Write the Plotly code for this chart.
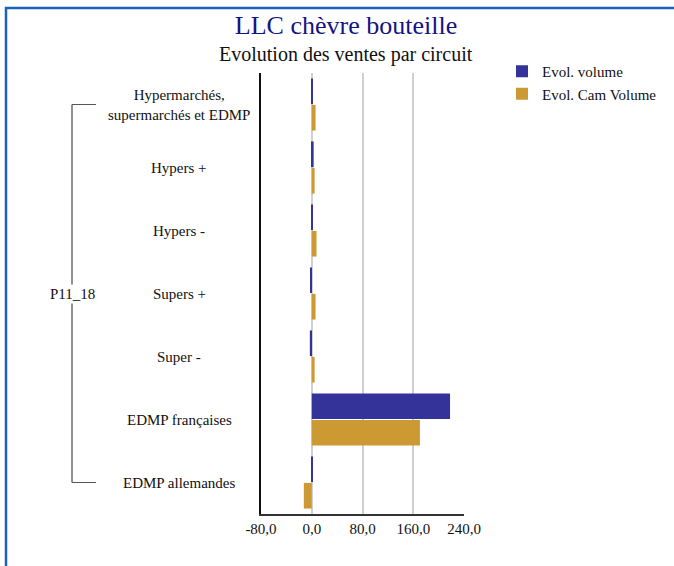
import plotly.graph_objects as go

categories = ["Hypermarchés,<br>supermarchés et EDMP", "Hypers +", "Hypers -", "Supers +",
              "Super -", "EDMP françaises", "EDMP allemandes"]
group_label = "P11_18"
evol_volume = [1.5, 3.0, 1.0, -1.5, -3.0, 218.0, 1.5]
evol_cam_volume = [6.0, 4.5, 7.5, 6.0, 4.5, 170.5, -12.5]
series_names = ["Evol. volume", "Evol. Cam Volume"]
x_ticks = [-80, 0, 80, 160, 240]
x_tick_labels = ["-80,0", "0,0", "80,0", "160,0", "240,0"]

FONT = "Liberation Serif"
W, H = 674, 566
L, R, T, B = 261, 210, 73, 52
pw = W - L - R
ph = H - T - B

def px_to_paper(x):
    return (x - L) / pw

def py_to_paper(y):
    return (H - B - y) / ph

fig = go.Figure()
fig.add_trace(go.Bar(y=categories, x=evol_volume, orientation="h", name=series_names[0],
                     marker=dict(color="#333399", line=dict(width=0))))
fig.add_trace(go.Bar(y=categories, x=evol_cam_volume, orientation="h", name=series_names[1],
                     marker=dict(color="#CC9933", line=dict(width=0))))

annotations = []
for c in categories:
    annotations.append(dict(x=px_to_paper(179), xref="paper", y=c, yref="y", text=c,
                            showarrow=False, xanchor="center", yanchor="middle",
                            font=dict(family=FONT, size=15, color="#111111"), align="center"))
annotations.append(dict(x=px_to_paper(72), xref="paper", y=categories[3], yref="y", text=group_label,
                        showarrow=False, xanchor="center", yanchor="middle", bgcolor="white",
                        font=dict(family=FONT, size=15, color="#111111")))
annotations.append(dict(x=px_to_paper(346), xref="paper", y=py_to_paper(55), yref="paper",
                        text="Evolution des ventes par circuit", showarrow=False,
                        xanchor="center", yanchor="middle",
                        font=dict(family=FONT, size=20, color="#111111")))

shapes = [
    dict(type="line", xref="paper", yref="y", x0=px_to_paper(72), x1=px_to_paper(72),
         y0=categories[0], y1=categories[-1], line=dict(color="#222222", width=1), layer="below"),
    dict(type="line", xref="paper", yref="y", x0=px_to_paper(72), x1=px_to_paper(96),
         y0=categories[0], y1=categories[0], line=dict(color="#555555", width=1)),
    dict(type="line", xref="paper", yref="y", x0=px_to_paper(72), x1=px_to_paper(96),
         y0=categories[-1], y1=categories[-1], line=dict(color="#555555", width=1)),
    # frame (left and top)
    dict(type="line", xref="paper", yref="paper", x0=px_to_paper(6), x1=px_to_paper(6),
         y0=py_to_paper(7), y1=py_to_paper(580),
         line=dict(color="#1a62b8", width=2.5)),
    dict(type="line", xref="paper", yref="paper", x0=px_to_paper(5), x1=px_to_paper(690),
         y0=py_to_paper(8), y1=py_to_paper(8),
         line=dict(color="#1a62b8", width=2.5)),
]

fig.update_layout(
    width=W, height=H,
    margin=dict(l=L, r=R, t=T, b=B, autoexpand=False),
    paper_bgcolor="white", plot_bgcolor="white",
    barmode="group", bargap=0.16, bargroupgap=0.03,
    title=dict(text="LLC chèvre bouteille", x=346 / W, xref="container", xanchor="center",
               y=1 - 25 / H, yref="container", yanchor="middle",
               font=dict(family=FONT, size=26, color="#141482")),
    legend=dict(x=px_to_paper(502), y=py_to_paper(55), xanchor="left", yanchor="top",
                font=dict(family=FONT, size=15, color="#111111"), tracegroupgap=0,
                itemwidth=30, bgcolor="rgba(0,0,0,0)", traceorder="normal"),
    xaxis=dict(range=[-80, 240], tickvals=x_ticks, ticktext=x_tick_labels, showgrid=True,
               gridcolor="#d0d0d0", gridwidth=1.5, zeroline=True, zerolinecolor="#d0d0d0",
               zerolinewidth=1.5, showline=True, linecolor="#333333", linewidth=1.5,
               ticks="", tickfont=dict(family=FONT, size=15, color="#111111"), fixedrange=True),
    yaxis=dict(autorange="reversed", showticklabels=False, showline=True, linecolor="#111111",
               linewidth=1.5, showgrid=False, ticks=""),
    annotations=annotations, shapes=shapes,
)

fig.write_html("out.html", config={"displayModeBar": False},
               post_script="document.body.style.margin='0';")
